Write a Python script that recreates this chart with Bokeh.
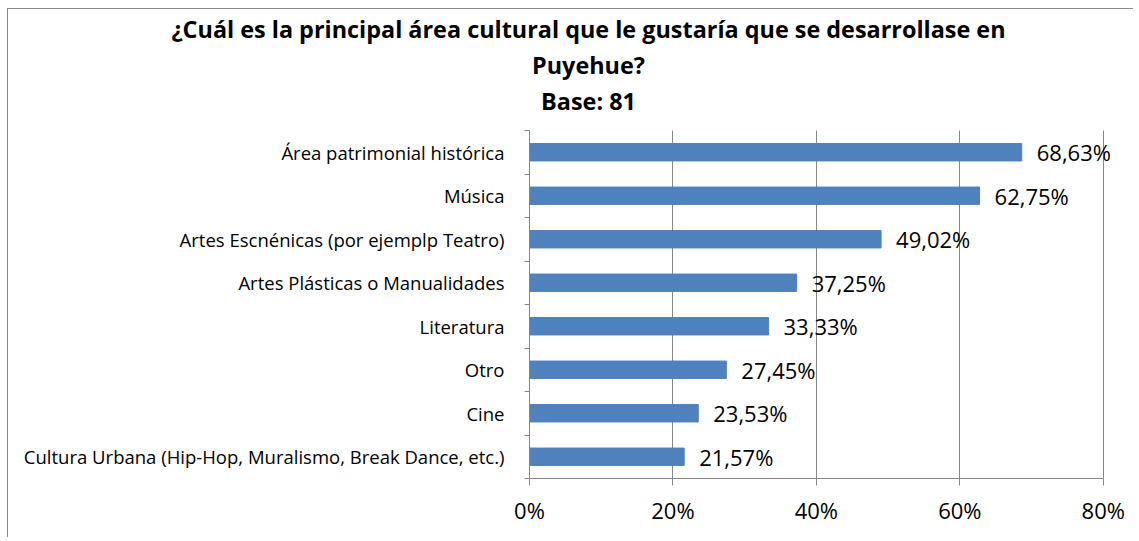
from bokeh.plotting import figure
from bokeh.layouts import column
from bokeh.models import (Range1d, FixedTicker, PrintfTickFormatter, ColumnDataSource,
                          LabelSet, Label)
from bokeh.core.properties import value
from bokeh.embed import file_html
from bokeh.resources import INLINE

categories = [
    "Área patrimonial histórica",
    "Música",
    "Artes Escnénicas (por ejemplp Teatro)",
    "Artes Plásticas o Manualidades",
    "Literatura",
    "Otro",
    "Cine",
    "Cultura Urbana (Hip-Hop, Muralismo, Break Dance, etc.)",
]
values = [68.63, 62.75, 49.02, 37.25, 33.33, 27.45, 23.53, 21.57]
x_ticks = [0, 20, 40, 60, 80]
title_lines = [
    "¿Cuál es la principal área cultural que le gustaría que se desarrollase en",
    "Puyehue?",
    "Base: 81",
]

n = len(categories)
pos = [n - 1 - i + 0.5 for i in range(n)]
labels = [("%.2f" % v).replace(".", ",") + "%" for v in values]
source = ColumnDataSource(dict(cat=categories, val=values, y=pos, lab=labels))

FONT = "Open Sans"
GRAY = "#878787"
W = 1125
TH = 121

# ---- title panel (frame covers the whole canvas) ----
t = figure(width=W, height=TH, output_backend="svg", toolbar_location=None,
           x_range=Range1d(0, W), y_range=Range1d(0, TH),
           x_axis_type=None, y_axis_type=None, min_border=0)
t.frame_align = False
t.outline_line_color = None
t.grid.grid_line_color = None
for txt, yy in zip(title_lines, [102, 66, 30]):
    t.add_layout(Label(x=580, y=yy, text=txt, text_align="center",
                       text_baseline="alphabetic", text_font=FONT,
                       text_font_style="bold", text_font_size="23.4px",
                       text_color="black"))

# ---- bar chart ----
p = figure(width=W, height=407, output_backend="svg", toolbar_location=None,
           x_range=Range1d(0, 83.1), y_range=Range1d(0, n),
           min_border_left=521, min_border_right=8, min_border_top=0,
           min_border_bottom=59)
p.frame_align = False
p.outline_line_color = None

p.hbar(y="y", right="val", left=0, height=0.4, source=source,
       fill_color="#4F81BD", line_color="#4F81BD")

# x axis
p.xaxis.bounds = (x_ticks[0], x_ticks[-1])
p.xaxis.ticker = FixedTicker(ticks=x_ticks)
p.xaxis.formatter = PrintfTickFormatter(format="%d%%")
p.xaxis.axis_line_color = GRAY
p.xaxis.major_tick_line_color = GRAY
p.xaxis.major_tick_out = 7
p.xaxis.major_tick_in = 0
p.xaxis.minor_tick_line_color = None
p.xaxis.major_label_text_font = FONT
p.xaxis.major_label_text_font_size = "22px"
p.xaxis.major_label_text_color = "black"
p.xaxis.major_label_standoff = 9

p.xgrid.ticker = FixedTicker(ticks=x_ticks)
p.xgrid.grid_line_color = GRAY
p.xgrid.grid_line_width = 1
p.ygrid.grid_line_color = None

# y axis
p.yaxis.ticker = FixedTicker(ticks=pos, minor_ticks=list(range(n + 1)))
p.yaxis.major_label_overrides = {y: c for y, c in zip(pos, categories)}
p.yaxis.axis_line_color = GRAY
p.yaxis.major_tick_line_color = None
p.yaxis.major_tick_out = 0
p.yaxis.major_tick_in = 0
p.yaxis.minor_tick_line_color = GRAY
p.yaxis.minor_tick_out = 5
p.yaxis.minor_tick_in = 0
p.yaxis.major_label_text_font = FONT
p.yaxis.major_label_text_font_size = "18.5px"
p.yaxis.major_label_text_color = "black"
p.yaxis.major_label_standoff = 20

# value labels
p.add_layout(LabelSet(x="val", y="y", text="lab", source=source, x_offset=15,
                      text_baseline="middle", text_font=value(FONT),
                      text_font_size=value("22px"), text_color="black"))

layout = column(t, p, spacing=0,
                styles={"margin-left": "7px", "margin-top": "8px",
                        "border-left": "1px solid #8a8a8a",
                        "border-top": "1px solid #8a8a8a"})

open("out.html", "w").write(file_html(layout, INLINE))
